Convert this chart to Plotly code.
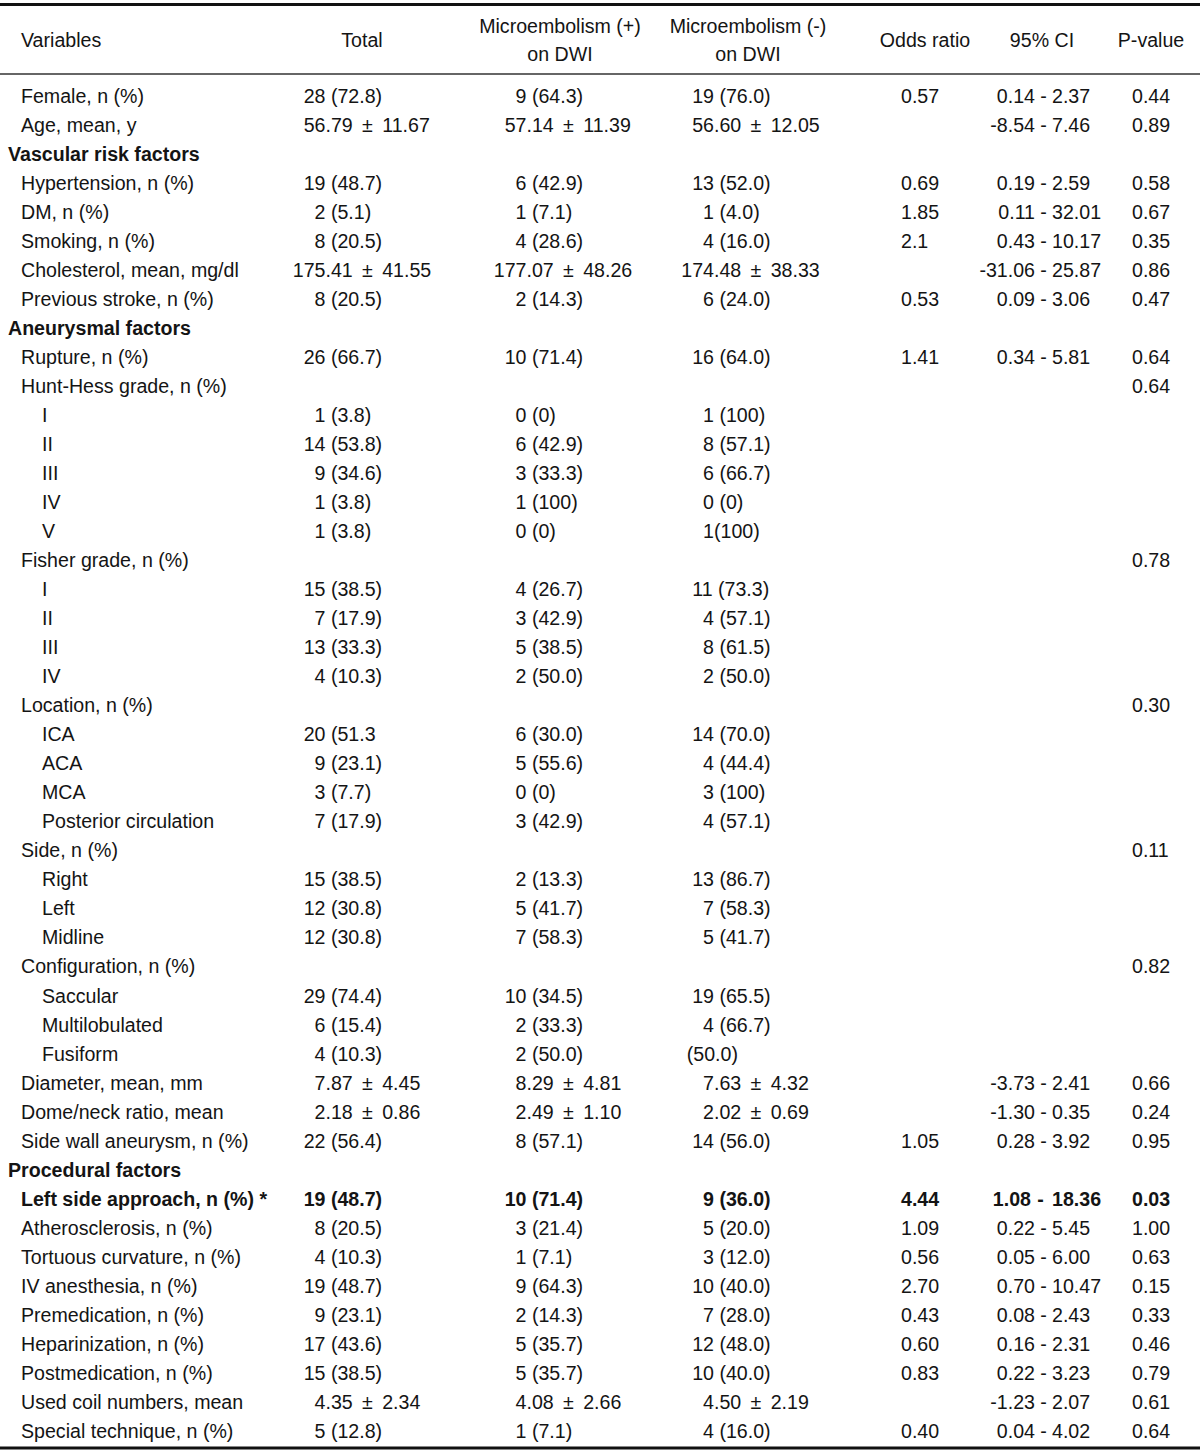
import plotly.graph_objects as go

# ---------------- data ----------------
header_cols = ["Variables", "Total", "Microembolism (+)|on DWI", "Microembolism (-)|on DWI",
               "Odds ratio", "95% CI", "P-value"]

labels = [
    "Female, n (%)", "Age, mean, y", "Vascular risk factors", "Hypertension, n (%)", "DM, n (%)",
    "Smoking, n (%)", "Cholesterol, mean, mg/dl", "Previous stroke, n (%)", "Aneurysmal factors",
    "Rupture, n (%)", "Hunt-Hess grade, n (%)", "I", "II", "III", "IV", "V",
    "Fisher grade, n (%)", "I", "II", "III", "IV",
    "Location, n (%)", "ICA", "ACA", "MCA", "Posterior circulation",
    "Side, n (%)", "Right", "Left", "Midline",
    "Configuration, n (%)", "Saccular", "Multilobulated", "Fusiform",
    "Diameter, mean, mm", "Dome/neck ratio, mean", "Side wall aneurysm, n (%)",
    "Procedural factors", "Left side approach, n (%) *", "Atherosclerosis, n (%)",
    "Tortuous curvature, n (%)", "IV anesthesia, n (%)", "Premedication, n (%)",
    "Heparinization, n (%)", "Postmedication, n (%)", "Used coil numbers, mean",
    "Special technique, n (%)",
]
# 0 = section heading, 1 = variable, 2 = sub-category
levels = [1, 1, 0, 1, 1, 1, 1, 1, 0, 1, 1, 2, 2, 2, 2, 2, 1, 2, 2, 2, 2, 1, 2, 2, 2, 2,
          1, 2, 2, 2, 1, 2, 2, 2, 1, 1, 1, 0, 1, 1, 1, 1, 1, 1, 1, 1, 1]
significant = [False] * 38 + [True] + [False] * 8

total = [
    "28 (72.8)", "56.79 ± 11.67", "", "19 (48.7)", "2 (5.1)", "8 (20.5)", "175.41 ± 41.55",
    "8 (20.5)", "", "26 (66.7)", "", "1 (3.8)", "14 (53.8)", "9 (34.6)", "1 (3.8)", "1 (3.8)",
    "", "15 (38.5)", "7 (17.9)", "13 (33.3)", "4 (10.3)", "", "20 (51.3", "9 (23.1)", "3 (7.7)",
    "7 (17.9)", "", "15 (38.5)", "12 (30.8)", "12 (30.8)", "", "29 (74.4)", "6 (15.4)",
    "4 (10.3)", "7.87 ± 4.45", "2.18 ± 0.86", "22 (56.4)", "", "19 (48.7)", "8 (20.5)",
    "4 (10.3)", "19 (48.7)", "9 (23.1)", "17 (43.6)", "15 (38.5)", "4.35 ± 2.34", "5 (12.8)",
]
micro_pos = [
    "9 (64.3)", "57.14 ± 11.39", "", "6 (42.9)", "1 (7.1)", "4 (28.6)", "177.07 ± 48.26",
    "2 (14.3)", "", "10 (71.4)", "", "0 (0)", "6 (42.9)", "3 (33.3)", "1 (100)", "0 (0)",
    "", "4 (26.7)", "3 (42.9)", "5 (38.5)", "2 (50.0)", "", "6 (30.0)", "5 (55.6)", "0 (0)",
    "3 (42.9)", "", "2 (13.3)", "5 (41.7)", "7 (58.3)", "", "10 (34.5)", "2 (33.3)",
    "2 (50.0)", "8.29 ± 4.81", "2.49 ± 1.10", "8 (57.1)", "", "10 (71.4)", "3 (21.4)",
    "1 (7.1)", "9 (64.3)", "2 (14.3)", "5 (35.7)", "5 (35.7)", "4.08 ± 2.66", "1 (7.1)",
]
micro_neg = [
    "19 (76.0)", "56.60 ± 12.05", "", "13 (52.0)", "1 (4.0)", "4 (16.0)", "174.48 ± 38.33",
    "6 (24.0)", "", "16 (64.0)", "", "1 (100)", "8 (57.1)", "6 (66.7)", "0 (0)", "1(100)",
    "", "11 (73.3)", "4 (57.1)", "8 (61.5)", "2 (50.0)", "", "14 (70.0)", "4 (44.4)", "3 (100)",
    "4 (57.1)", "", "13 (86.7)", "7 (58.3)", "5 (41.7)", "", "19 (65.5)", "4 (66.7)",
    "(50.0)", "7.63 ± 4.32", "2.02 ± 0.69", "14 (56.0)", "", "9 (36.0)", "5 (20.0)",
    "3 (12.0)", "10 (40.0)", "7 (28.0)", "12 (48.0)", "10 (40.0)", "4.50 ± 2.19", "4 (16.0)",
]
odds_ratio = [
    "0.57", "", "", "0.69", "1.85", "2.1", "", "0.53", "", "1.41", "", "", "", "", "", "",
    "", "", "", "", "", "", "", "", "", "", "", "", "", "", "", "", "", "",
    "", "", "1.05", "", "4.44", "1.09", "0.56", "2.70", "0.43", "0.60", "0.83", "", "0.40",
]
ci_low = [
    "0.14", "-8.54", "", "0.19", "0.11", "0.43", "-31.06", "0.09", "", "0.34", "", "", "", "",
    "", "", "", "", "", "", "", "", "", "", "", "", "", "", "", "", "", "", "", "",
    "-3.73", "-1.30", "0.28", "", "1.08", "0.22", "0.05", "0.70", "0.08", "0.16", "0.22",
    "-1.23", "0.04",
]
ci_high = [
    "2.37", "7.46", "", "2.59", "32.01", "10.17", "25.87", "3.06", "", "5.81", "", "", "", "",
    "", "", "", "", "", "", "", "", "", "", "", "", "", "", "", "", "", "", "", "",
    "2.41", "0.35", "3.92", "", "18.36", "5.45", "6.00", "10.47", "2.43", "2.31", "3.23",
    "2.07", "4.02",
]
p_value = [
    "0.44", "0.89", "", "0.58", "0.67", "0.35", "0.86", "0.47", "", "0.64", "0.64", "", "", "",
    "", "", "0.78", "", "", "", "", "0.30", "", "", "", "", "0.11", "", "", "", "0.82", "", "",
    "", "0.66", "0.24", "0.95", "", "0.03", "1.00", "0.63", "0.15", "0.33", "0.46", "0.79",
    "0.61", "0.64",
]

# ---------------- layout constants ----------------
W, H = 1200, 1455
FS = 19.6
FONT = "Liberation Sans, Arial, Helvetica, sans-serif"
COLOR = "#141414"
DIGIT = 0.556 * FS
SPACE = 0.278 * FS
ROW0, STEP = 98, 29.02
INDENT = {0: 8, 1: 21, 2: 42}
INT_END = {"total": 325.5, "pos": 526.5, "neg": 714}
ODDS_X, CI_MID, CI_GAP, P_X = 901, 1043.5, 8.5, 1132
HEAD_Y, HEAD_Y1, HEAD_Y2 = 42, 28, 56
HEAD_X = [21, 362, 560, 748, 925, 1042, 1151]

row_y = [ROW0 + STEP * i for i in range(len(labels))]


def fmt(s, bold):
    s = s.replace(" ± ", " \u2009±\u2009 ")
    return f"<b>{s}</b>" if (bold and s) else s


def lead_digits(s):
    n = 0
    for ch in s:
        if ch.isdigit():
            n += 1
        else:
            break
    return n


fig = go.Figure()


def add_text(xs, ys, texts, pos):
    fig.add_trace(go.Scatter(
        x=xs, y=ys, text=texts, mode="text", textposition=pos,
        textfont=dict(family=FONT, size=FS, color=COLOR),
        hoverinfo="skip", showlegend=False, cliponaxis=False,
    ))


# Header
hx, hy, ht, hp = [], [], [], []
for i, h in enumerate(header_cols):
    parts = h.split("|")
    if len(parts) == 1:
        hx.append(HEAD_X[i]); hy.append(HEAD_Y); ht.append(parts[0])
        hp.append("middle right" if i == 0 else "middle center")
    else:
        for p, yy in zip(parts, (HEAD_Y1, HEAD_Y2)):
            hx.append(HEAD_X[i]); hy.append(yy); ht.append(p); hp.append("middle center")
add_text(hx, hy, ht, hp)

# Variable labels
add_text([INDENT[l] for l in levels], row_y,
         [fmt(t, l == 0 or b) for t, l, b in zip(labels, levels, significant)], "middle right")

# Count / mean columns, aligned on the integer part of the first number
for key, col in (("total", total), ("pos", micro_pos), ("neg", micro_neg)):
    xs, ys, ts = [], [], []
    for s, y, b in zip(col, row_y, significant):
        if not s:
            continue
        nd = lead_digits(s)
        if nd == 0:
            x = INT_END[key] - 2 * DIGIT - SPACE
        else:
            x = INT_END[key] - nd * DIGIT
        xs.append(x)
        ys.append(y)
        ts.append(fmt(s, b))
    add_text(xs, ys, ts, "middle right")

# Odds ratio
sel = [i for i, s in enumerate(odds_ratio) if s]
add_text([ODDS_X] * len(sel), [row_y[i] for i in sel],
         [fmt(odds_ratio[i], significant[i]) for i in sel], "middle right")

# 95% CI, aligned on the dash
sel = [i for i, s in enumerate(ci_low) if s]
add_text([CI_MID - CI_GAP - (4 if significant[i] else 0) for i in sel], [row_y[i] for i in sel],
         [fmt(ci_low[i], significant[i]) for i in sel], "middle left")
add_text([CI_MID - (3 if significant[i] else 0) for i in sel], [row_y[i] for i in sel],
         [fmt("-", significant[i]) for i in sel], "middle center")
add_text([CI_MID + CI_GAP for i in sel], [row_y[i] for i in sel],
         [fmt(ci_high[i], significant[i]) for i in sel], "middle right")

# P-value
sel = [i for i, s in enumerate(p_value) if s]
add_text([P_X] * len(sel), [row_y[i] for i in sel],
         [fmt(p_value[i], significant[i]) for i in sel], "middle right")

# Rules
for yy, wdt, clr in ((4.5, 3, "#111111"), (74, 1.3, "#333333"), (1448, 3, "#111111")):
    fig.add_shape(type="line", xref="x", yref="y", x0=0, x1=W, y0=yy, y1=yy,
                  line=dict(color=clr, width=wdt))

fig.update_layout(
    width=W, height=H, margin=dict(l=0, r=0, t=0, b=0),
    paper_bgcolor="white", plot_bgcolor="white",
    xaxis=dict(range=[0, W], visible=False, fixedrange=True),
    yaxis=dict(range=[H, 0], visible=False, fixedrange=True),
)

fig.write_html("out.html", config={"displayModeBar": False, "staticPlot": True},
               post_script="document.body.style.margin='0';")
